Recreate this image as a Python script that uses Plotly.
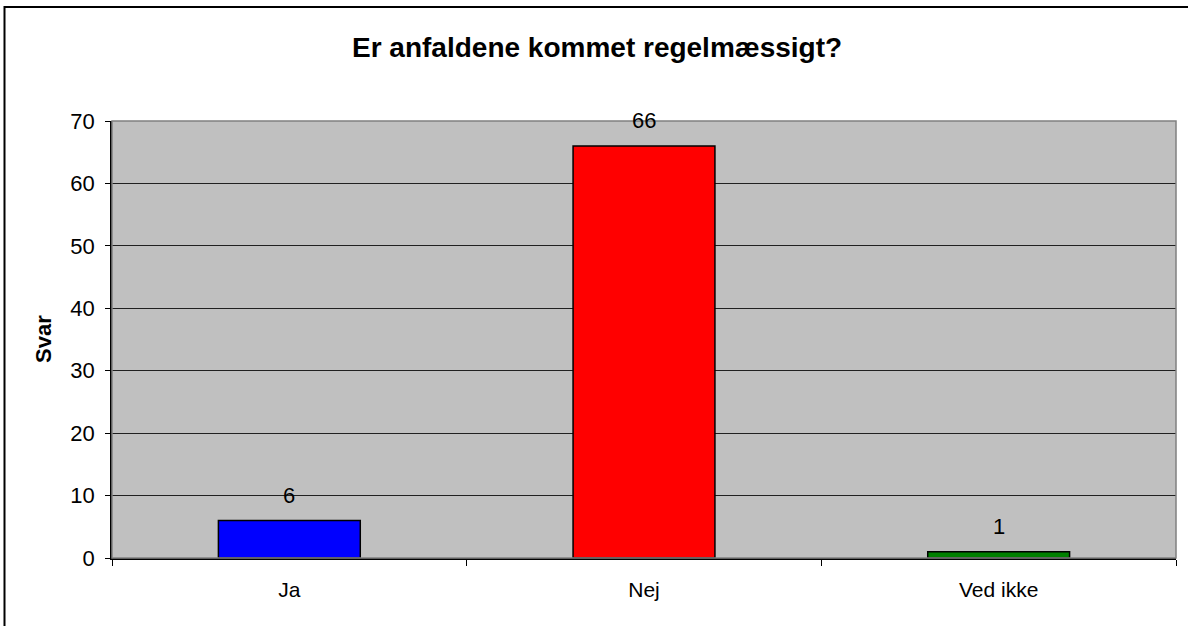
import plotly.graph_objects as go

categories = ["Ja", "Nej", "Ved ikke"]
values = [6, 66, 1]
colors = ["#0000FF", "#FF0000", "#008000"]
title_text = "Er anfaldene kommet regelmæssigt?"
y_title = "Svar"
y_ticks = [0, 10, 20, 30, 40, 50, 60, 70]

OFF = 0  # body margin removed via post_script
W, H = 1188 - 2 * OFF, 626 - 2 * OFF
PL, PR, PT, PB = 112, 1176, 121, 558  # plot area in page pixels
L, R, T, B = PL - OFF, W - (PR - OFF), PT - OFF, H - (PB - OFF)
pw, ph = W - L - R, H - T - B

def px_x(p):
    return (p - OFF - L) / pw

def px_y(p):
    return (H - B - (p - OFF)) / ph

FONT = "Liberation Sans, Arial"

fig = go.Figure()
fig.add_trace(go.Bar(
    x=categories, y=values,
    marker=dict(color=colors, line=dict(color="black", width=1.5)),
    width=0.4, hoverinfo="skip",
))

annotations = [
    dict(x=c, y=v, xref="x", yref="y", text=str(v), showarrow=False,
         yshift=25, yanchor="middle", font=dict(size=22, color="black", family=FONT))
    for c, v in zip(categories, values)
]
annotations.append(dict(x=px_x(597), y=px_y(47), xref="paper", yref="paper",
                        text="<b>" + title_text + "</b>", showarrow=False,
                        font=dict(size=28, color="black", family=FONT),
                        xanchor="center", yanchor="middle"))
annotations.append(dict(x=px_x(43.5), y=px_y(339.5), xref="paper", yref="paper",
                        text="<b>" + y_title + "</b>", showarrow=False, textangle=-90,
                        font=dict(size=22, color="black", family=FONT),
                        xanchor="center", yanchor="middle"))

shapes = [
    dict(type="rect", xref="paper", yref="paper", x0=px_x(4.5), y0=px_y(660),
         x1=px_x(1220), y1=px_y(7), line=dict(color="black", width=2), layer="below"),
    dict(type="rect", xref="paper", yref="paper", x0=0, y0=0, x1=1, y1=1,
         line=dict(color="#808080", width=1.5), layer="above"),
]

fig.update_layout(
    width=W, height=H,
    margin=dict(l=L, r=R, t=T, b=B, pad=0),
    paper_bgcolor="white", plot_bgcolor="#C0C0C0",
    showlegend=False,
    font=dict(family=FONT, size=22, color="black"),
    annotations=annotations, shapes=shapes,
    xaxis=dict(
        type="category", range=[-0.5, 2.5],
        showgrid=False, ticks="outside", tickson="boundaries", ticklen=6,
        tickcolor="black", tickwidth=1, showline=True, linecolor="black", linewidth=1.5,
        tickfont=dict(size=21), ticklabelstandoff=12, fixedrange=True,
    ),
    yaxis=dict(
        range=[0, 70], tickvals=y_ticks, showgrid=True, gridcolor="#202020", gridwidth=1,
        ticks="outside", ticklen=5, tickcolor="black", showline=True, linecolor="black",
        linewidth=1.5, tickfont=dict(size=22), zeroline=False, fixedrange=True,
        ticklabelstandoff=6,
    ),
)

fig.write_html(
    "out.html",
    config={"displayModeBar": False},
    post_script="document.body.style.margin='0px';document.body.style.overflow='hidden';",
)
